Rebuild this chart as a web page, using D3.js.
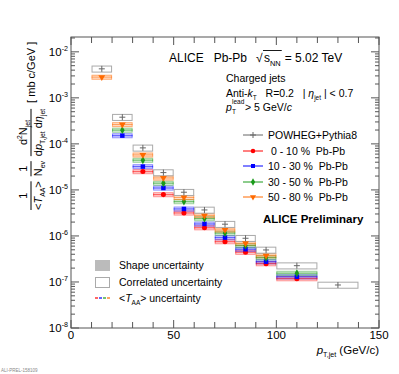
<!DOCTYPE html>
<html>
<head>
<meta charset="utf-8">
<script src="https://cdn.jsdelivr.net/npm/d3@7"></script>
<style>
  body { margin: 0; background: #fff; }
  text { font-family: "Liberation Sans", Arial, sans-serif; fill: #000; white-space: pre; }
</style>
</head>
<body>
<div class="chart"></div>
<script>
// pT bins (GeV/c)
var binLow  = [10, 20, 30, 40, 50, 60, 70, 80, 90, 100, 120];
var binHigh = [20, 30, 40, 50, 60, 70, 80, 90, 100, 120, 140];

// spectra, mb c/GeV (null = not shown)
var powheg    = [4.27e-3, 3.80e-4, 8.19e-5, 2.38e-5, 8.91e-6, 3.67e-6, 1.80e-6, 8.91e-7, 4.96e-7, 2.26e-7, 8.6e-8];
var cent0_10  = [null, null, 2.50e-5, 7.91e-6, 3.16e-6, 1.51e-6, 7.52e-7, 4.43e-7, 2.50e-7, 1.18e-7, null];
var cent10_30 = [null, 1.51e-4, 3.21e-5, 1.10e-5, 3.86e-6, 1.82e-6, 9.19e-7, 5.14e-7, 2.76e-7, 1.30e-7, null];
var cent30_50 = [null, 1.99e-4, 4.42e-5, 1.40e-5, 5.57e-6, 2.38e-6, 1.15e-6, 6.15e-7, 3.37e-7, 1.55e-7, null];
var cent50_80 = [2.82e-3, 2.63e-4, 5.77e-5, 1.82e-5, 6.87e-6, 2.76e-6, 1.35e-6, 6.93e-7, 3.73e-7, null, null];

// relative uncertainties
var powhegUnc = 0.15;
var corrUnc  = [0.10, 0.10, 0.10, 0.10];
var shapeUnc = [0.07, 0.07, 0.07, 0.12];

var seriesNames = [" 0 - 10 %  Pb-Pb", "10 - 30 %  Pb-Pb", "30 - 50 %  Pb-Pb", "50 - 80 %  Pb-Pb"];
var seriesData = [cent0_10, cent10_30, cent30_50, cent50_80];
var seriesColors = ["#ff0000", "#0000ff", "#1a9a1a", "#ff6a00"];
var seriesSymbols = [d3.symbolCircle, d3.symbolSquare, d3.symbolDiamond, d3.symbolTriangle];

var xTickLabels = [0, 50, 100, 150];

var svgWidth = 399;
var svgHeight = 374;
var margin = { top: 37, right: 20, bottom: 46, left: 71 };
var width = svgWidth - margin.left - margin.right;
var height = svgHeight - margin.top - margin.bottom;

var svg = d3.select(".chart").append("svg")
  .attr("width", svgWidth)
  .attr("height", svgHeight);

var chartGroup = svg.append("g")
  .attr("transform", `translate(${margin.left}, ${margin.top})`);

var xScale = d3.scaleLinear().domain([0, 150]).range([0, width]);
var yScale = d3.scaleLog().domain([1e-8, 2.1e-2]).range([height, 0]);

// helper for text with sub/superscripts
function rich(sel, parts, size) {
  var shift = 0;
  parts.forEach(function(p) {
    var target = p.sub ? size * 0.3 : (p.sup ? -size * 0.42 : 0);
    var ts = sel.append("tspan").text(p.t).attr("dy", target - shift);
    shift = target;
    if (p.sub || p.sup) ts.attr("font-size", size * 0.62);
    if (p.it) ts.attr("font-style", "italic");
  });
  sel.attr("font-size", size);
  return sel;
}

// ---- uncertainty boxes ----
var boxes = chartGroup.append("g");

seriesData.forEach(function(vals, s) {
  var col = seriesColors[s];
  vals.forEach(function(v, i) {
    if (v == null) return;
    var x0 = xScale(binLow[i]), x1 = xScale(binHigh[i]);
    // shape (filled)
    boxes.append("rect")
      .attr("x", x0).attr("width", x1 - x0)
      .attr("y", yScale(v * (1 + shapeUnc[s])))
      .attr("height", yScale(v * (1 - shapeUnc[s])) - yScale(v * (1 + shapeUnc[s])))
      .attr("fill", col).attr("fill-opacity", 0.22);
    // correlated (open)
    boxes.append("rect")
      .attr("x", x0 + 0.5).attr("width", x1 - x0 - 1)
      .attr("y", yScale(v * (1 + corrUnc[s])))
      .attr("height", yScale(v * (1 - corrUnc[s])) - yScale(v * (1 + corrUnc[s])))
      .attr("fill", "none").attr("stroke", col).attr("stroke-opacity", 0.45).attr("stroke-width", 1);
  });
});

powheg.forEach(function(v, i) {
  var x0 = xScale(binLow[i]), x1 = xScale(binHigh[i]);
  boxes.append("rect")
    .attr("x", x0 + 0.5).attr("width", x1 - x0 - 1)
    .attr("y", yScale(v * (1 + powhegUnc)))
    .attr("height", yScale(v * (1 - powhegUnc)) - yScale(v * (1 + powhegUnc)))
    .attr("fill", "none").attr("stroke", "#aaa").attr("stroke-width", 1);
});

// ---- markers ----
var marks = chartGroup.append("g");

seriesData.forEach(function(vals, s) {
  var col = seriesColors[s];
  vals.forEach(function(v, i) {
    if (v == null) return;
    var xc = xScale((binLow[i] + binHigh[i]) / 2);
    var yc = yScale(v);
    marks.append("line")
      .attr("x1", xScale(binLow[i])).attr("x2", xScale(binHigh[i]))
      .attr("y1", yc).attr("y2", yc)
      .attr("stroke", col).attr("stroke-opacity", 0.55);
    marks.append("path")
      .attr("d", d3.symbol().type(seriesSymbols[s]).size(s === 2 ? 18 : 20)())
      .attr("transform", `translate(${xc}, ${yc})` + (s === 3 ? " rotate(180)" : ""))
      .attr("fill", col);
  });
});

powheg.forEach(function(v, i) {
  var xc = xScale((binLow[i] + binHigh[i]) / 2);
  marks.append("path")
    .attr("d", "M-3,0H3M0,-3V3")
    .attr("transform", `translate(${xc}, ${yScale(v)})`)
    .attr("fill", "none").attr("stroke", "#666").attr("stroke-width", 1);
});

// ---- frame and ticks ----
var axisColor = "#555";
chartGroup.append("rect")
  .attr("width", width).attr("height", height)
  .attr("fill", "none").attr("stroke", axisColor).attr("stroke-width", 1);

var xTicks = d3.range(0, 151, 10);
xTicks.forEach(function(t) {
  var len = (t % 50 === 0) ? 8 : 6;
  chartGroup.append("line").attr("x1", xScale(t)).attr("x2", xScale(t))
    .attr("y1", height).attr("y2", height - len).attr("stroke", axisColor);
  chartGroup.append("line").attr("x1", xScale(t)).attr("x2", xScale(t))
    .attr("y1", 0).attr("y2", len).attr("stroke", axisColor);
});

xTickLabels.forEach(function(t) {
  chartGroup.append("text")
    .attr("x", xScale(t)).attr("y", height + 11)
    .attr("text-anchor", "middle").attr("font-size", 11.5)
    .text(t);
});

yScale.ticks().forEach(function(t) {
  var exp = Math.round(Math.log10(t));
  var major = Math.abs(t / Math.pow(10, exp) - 1) < 1e-6;
  var len = major ? 8 : 4;
  var yy = yScale(t);
  chartGroup.append("line").attr("x1", 0).attr("x2", len).attr("y1", yy).attr("y2", yy).attr("stroke", axisColor);
  chartGroup.append("line").attr("x1", width).attr("x2", width - len).attr("y1", yy).attr("y2", yy).attr("stroke", axisColor);
  if (major) {
    rich(chartGroup.append("text")
      .attr("x", -3).attr("y", yy + 4).attr("text-anchor", "end"),
      [{ t: "10" }, { t: "-" + Math.abs(exp), sup: true }], 11.5);
  }
});

// ---- axis titles ----
var xt = svg.append("text").attr("x", 379).attr("y", 354).attr("text-anchor", "end");
rich(xt, [{ t: "p", it: true }, { t: "T,jet", sub: true }, { t: " (GeV/" }, { t: "c" }, { t: ")" }], 11.5);

var yLab = svg.append("g").attr("transform", "rotate(-90)");
var u = -210;
function frac(num, den, gap) {
  var g = yLab.append("g");
  var nt = rich(g.append("text").attr("y", 27), num, 11);
  var dt = rich(g.append("text").attr("y", 42), den, 11);
  var nw = nt.node().getComputedTextLength(), dw = dt.node().getComputedTextLength();
  var w = Math.max(nw, dw);
  nt.attr("x", u + (w - nw) / 2);
  dt.attr("x", u + (w - dw) / 2);
  g.append("line").attr("x1", u).attr("x2", u + w).attr("y1", 31).attr("y2", 31)
    .attr("stroke", "#000").attr("stroke-width", 1);
  u += w + gap;
}
frac([{ t: "1" }], [{ t: "<" }, { t: "T", it: true }, { t: "AA", sub: true }, { t: ">" }], 5);
frac([{ t: "1" }], [{ t: "N" }, { t: "ev", sub: true }], 5);
frac([{ t: "d" }, { t: "2", sup: true }, { t: "N" }, { t: "jet", sub: true }],
     [{ t: "d" }, { t: "p", it: true }, { t: "T,jet", sub: true }, { t: " d" }, { t: "η", it: true }, { t: "jet", sub: true }], 6);
yLab.append("text").attr("x", u).attr("y", 35).attr("font-size", 11).text("[ mb c/GeV ]");

// ---- header text ----
svg.append("text").attr("x", 169).attr("y", 62).attr("font-size", 12).text("ALICE   Pb-Pb");
svg.append("text").attr("x", 256).attr("y", 62).attr("font-size", 12).text("√");
var sq = rich(svg.append("text").attr("x", 264).attr("y", 62), [{ t: "s" }, { t: "NN", sub: true }], 12);
var sqw = sq.node().getComputedTextLength();
svg.append("line").attr("x1", 263).attr("x2", 265 + sqw).attr("y1", 50.5).attr("y2", 50.5)
  .attr("stroke", "#000").attr("stroke-width", 0.9);
svg.append("text").attr("x", 268 + sqw).attr("y", 62).attr("font-size", 12).text("= 5.02 TeV");

svg.append("text").attr("x", 226).attr("y", 82).attr("font-size", 10.5).text("Charged jets");
rich(svg.append("text").attr("x", 226).attr("y", 97),
  [{ t: "Anti-" }, { t: "k", it: true }, { t: "T", sub: true }, { t: "   R=0.2   | " }, { t: "η", it: true }, { t: "jet", sub: true }, { t: " | < 0.7" }], 10.5);
svg.append("text").attr("x", 226).attr("y", 111).attr("font-size", 10.5).attr("font-style", "italic").text("p");
svg.append("text").attr("x", 232).attr("y", 104).attr("font-size", 6.5).text("lead");
svg.append("text").attr("x", 232).attr("y", 114).attr("font-size", 6.5).text("T");
rich(svg.append("text").attr("x", 245).attr("y", 111), [{ t: "> 5 GeV/" }, { t: "c", it: true }], 10.5);

// ---- legend (top right) ----
var legY = [135, 151, 166, 182, 197];
var leg = svg.append("g");
leg.append("line").attr("x1", 243).attr("x2", 263).attr("y1", legY[0]).attr("y2", legY[0]).attr("stroke", "#666");
leg.append("path").attr("d", "M-3,0H3M0,-3V3").attr("transform", `translate(253, ${legY[0]})`)
  .attr("stroke", "#666").attr("fill", "none");
leg.append("text").attr("x", 268).attr("y", legY[0] + 4).attr("font-size", 10.5).text("POWHEG+Pythia8");
seriesNames.forEach(function(name, s) {
  var yy = legY[s + 1];
  leg.append("line").attr("x1", 243).attr("x2", 263).attr("y1", yy).attr("y2", yy).attr("stroke", seriesColors[s]);
  leg.append("path")
    .attr("d", d3.symbol().type(seriesSymbols[s]).size(16)())
    .attr("transform", `translate(253, ${yy})` + (s === 3 ? " rotate(180)" : ""))
    .attr("fill", seriesColors[s]);
  leg.append("text").attr("x", 268).attr("y", yy + 4).attr("font-size", 10.5).text(name);
});

svg.append("text").attr("x", 263).attr("y", 223).attr("font-size", 11.5).attr("font-weight", "bold")
  .text("ALICE Preliminary");

// ---- legend (bottom left) ----
svg.append("rect").attr("x", 95).attr("y", 260).attr("width", 15).attr("height", 11).attr("fill", "#bbb");
svg.append("text").attr("x", 119).attr("y", 269).attr("font-size", 10.5).text("Shape uncertainty");
svg.append("rect").attr("x", 95.5).attr("y", 277.5).attr("width", 14).attr("height", 10)
  .attr("fill", "none").attr("stroke", "#aaa");
svg.append("text").attr("x", 119).attr("y", 286).attr("font-size", 10.5).text("Correlated uncertainty");
["#ff0000", "#0000ff", "#1a9a1a", "#ff6a00"].forEach(function(c, k) {
  svg.append("line").attr("x1", 95 + k * 4).attr("x2", 98 + k * 4).attr("y1", 298).attr("y2", 298)
    .attr("stroke", c).attr("stroke-width", 1.2);
});
rich(svg.append("text").attr("x", 119).attr("y", 302),
  [{ t: "<" }, { t: "T", it: true }, { t: "AA", sub: true }, { t: "> uncertainty" }], 10.5);

svg.append("text").attr("x", 1).attr("y", 372).attr("font-size", 4.5).style("fill", "#888").text("ALI-PREL-158109");
</script>
</body>
</html>
